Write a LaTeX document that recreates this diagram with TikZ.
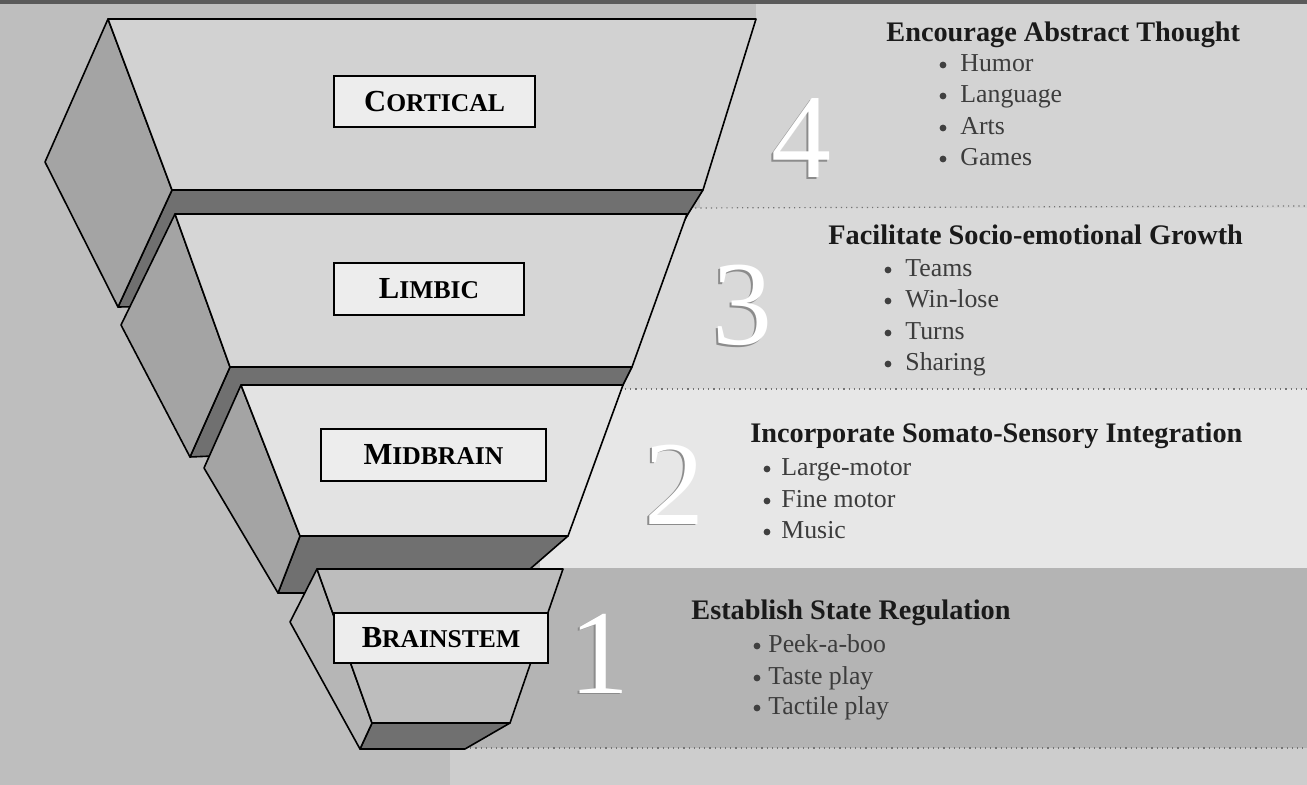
\documentclass[tikz,border=0pt]{standalone}
\usepackage{fontspec}
\setmainfont{Liberation Serif}
\definecolor{bgL}{HTML}{BEBEBE}
\definecolor{topdark}{HTML}{5A5A5A}
\definecolor{bandA}{HTML}{D3D3D3}
\definecolor{bandB}{HTML}{D9D9D9}
\definecolor{bandC}{HTML}{E7E7E7}
\definecolor{bandD}{HTML}{B4B4B4}
\definecolor{bandE}{HTML}{CDCDCD}
\definecolor{frontA}{HTML}{D2D2D2}
\definecolor{frontB}{HTML}{D6D6D6}
\definecolor{frontC}{HTML}{E3E3E3}
\definecolor{frontD}{HTML}{BDBDBD}
\definecolor{sidegray}{HTML}{A4A4A4}
\definecolor{botgray}{HTML}{707070}
\definecolor{boxgray}{HTML}{EDEDED}
\definecolor{inkgray}{HTML}{1A1A1A}
\newcommand{\headfont}{\fontsize{14.15}{17}\selectfont\bfseries}
\newcommand{\itemfont}{\fontsize{12.9}{15}\selectfont}
\newcommand{\numfont}{\fontsize{60}{60}\selectfont}
\newcommand{\lblcap}[2]{{\fontsize{15.3}{18}\selectfont\bfseries #1}{\fontsize{12.8}{15}\selectfont\bfseries #2}}
\tikzset{
  edgeline/.style={draw=black, line width=0.8pt, line join=round},
  sideface/.style={edgeline, fill=sidegray},
  botface/.style={edgeline, fill=botgray},
  lblbox/.style={draw=black, line width=0.8pt, fill=boxgray, inner sep=0pt},
  head/.style={anchor=base west, font=\headfont, inner sep=0pt, text=inkgray},
  item/.style={anchor=base west, font=\itemfont, inner sep=0pt, text=inkgray!85},
  bdot/.style={circle, fill=black!75, inner sep=0pt, minimum size=3.4pt},
  bignum/.style={font=\numfont, text=white, inner sep=0pt},
  bignumsh/.style={font=\numfont, text=black!45, inner sep=0pt},
  sep/.style={dotted, draw=black!55, line width=0.6pt}
}
\begin{document}
\begin{tikzpicture}[x=0.5pt,y=-0.5pt]
\useasboundingbox (0,0) rectangle (1307,785);
% background and bands
\fill[bgL] (0,0) rectangle (1307,785);
\fill[topdark] (0,0) rectangle (1307,4);
\fill[bandA] (700,19) rectangle (1307,208);
\fill[bandA] (756,4) rectangle (1307,19);
\fill[bandB] (600,208) rectangle (1307,389);
\fill[bandC] (540,389) rectangle (1307,568);
\fill[bandD] (450,568) rectangle (1307,748);
\fill[bandE] (450,748) rectangle (1307,785);
\draw[sep] (690,208) -- (1307,206);
\draw[sep] (625,389) -- (1307,389);
\draw[sep] (465,748) -- (1307,748);

% cortical slab
\filldraw[botface] (172,190) -- (703,190) -- (688,214) -- (640,300) -- (118,307) -- cycle;
\filldraw[sideface] (108,19) -- (45,162) -- (118,307) -- (172,190) -- cycle;
\filldraw[edgeline, fill=frontA] (108,19) -- (756,19) -- (703,190) -- (172,190) -- cycle;
% limbic slab
\filldraw[botface] (230,367) -- (632,367) -- (623,385) -- (580,440) -- (190,457) -- cycle;
\filldraw[sideface] (175,214) -- (121,325) -- (190,457) -- (230,367) -- cycle;
\filldraw[edgeline, fill=frontB] (175,214) -- (687,214) -- (632,367) -- (230,367) -- cycle;
% midbrain slab
\filldraw[botface] (300,536) -- (568,536) -- (530,569) -- (450,593) -- (278,593) -- cycle;
\filldraw[sideface] (241,385) -- (204,468) -- (278,593) -- (300,536) -- cycle;
\filldraw[edgeline, fill=frontC] (241,385) -- (623,385) -- (568,536) -- (300,536) -- cycle;
% brainstem slab
\filldraw[botface] (372,723) -- (510,723) -- (465,749) -- (360,749) -- cycle;
\filldraw[sideface, fill=sidegray!80!white] (317,569) -- (290,622) -- (360,749) -- (372,723) -- cycle;
\filldraw[edgeline, fill=frontD] (317,569) -- (563,569) -- (510,723) -- (372,723) -- cycle;

% labels
\node[lblbox, minimum width=100.5pt, minimum height=25.5pt] (cortical) at (434.5,101.5) {\lblcap{C}{ORTICAL}};
\node[lblbox, minimum width=95pt, minimum height=26pt] (limbic) at (429,289) {\lblcap{L}{IMBIC}};
\node[lblbox, minimum width=112.5pt, minimum height=26pt] (midbrain) at (433.5,455) {\lblcap{M}{IDBRAIN}};
\node[lblbox, minimum width=107pt, minimum height=25pt] (brainstem) at (441,638) {\lblcap{B}{RAINSTEM}};

% big numbers
\node[bignumsh] (n4s) at (799.5,140) {4};
\node[bignum] (n4) at (801,138.5) {4};
\node[bignumsh] (n3s) at (740.5,307) {3};
\node[bignum] (n3) at (742,305.5) {3};
\node[bignumsh] (n2s) at (672.5,486) {2};
\node[bignum] (n2) at (674,484.5) {2};
\node[bignumsh] (n1s) at (597.5,655) {1};
\node[bignum] (n1) at (599,653.5) {1};

% level 4
\node[head] (h4) at (886,42) {Encourage Abstract Thought};
\node[bdot] (d4a) at (943,65) {}; \node[item] (i4a) at (960,72) {Humor};
\node[bdot] (d4b) at (943,96) {}; \node[item] (i4b) at (960,103) {Language};
\node[bdot] (d4c) at (943,128) {}; \node[item] (i4c) at (960,135) {Arts};
\node[bdot] (d4d) at (943,159) {}; \node[item] (i4d) at (960,166) {Games};
% level 3
\node[head] (h3) at (828,245) {Facilitate Socio-emotional Growth};
\node[bdot] (d3a) at (888,270) {}; \node[item] (i3a) at (905,277) {Teams};
\node[bdot] (d3b) at (888,301) {}; \node[item] (i3b) at (905,308) {Win-lose};
\node[bdot] (d3c) at (888,333) {}; \node[item] (i3c) at (905,340) {Turns};
\node[bdot] (d3d) at (888,364) {}; \node[item] (i3d) at (905,371) {Sharing};
% level 2
\node[head] (h2) at (750,443) {Incorporate Somato-Sensory Integration};
\node[bdot] (d2a) at (767,469) {}; \node[item] (i2a) at (781,476) {Large-motor};
\node[bdot] (d2b) at (767,501) {}; \node[item] (i2b) at (781,508) {Fine motor};
\node[bdot] (d2c) at (767,532) {}; \node[item] (i2c) at (781,539) {Music};
% level 1
\node[head] (h1) at (691,620) {Establish State Regulation};
\node[bdot] (d1a) at (757,646) {}; \node[item] (i1a) at (768,653) {Peek-a-boo};
\node[bdot] (d1b) at (757,678) {}; \node[item] (i1b) at (768,685) {Taste play};
\node[bdot] (d1c) at (757,708) {}; \node[item] (i1c) at (768,715) {Tactile play};
\end{tikzpicture}
\end{document}
